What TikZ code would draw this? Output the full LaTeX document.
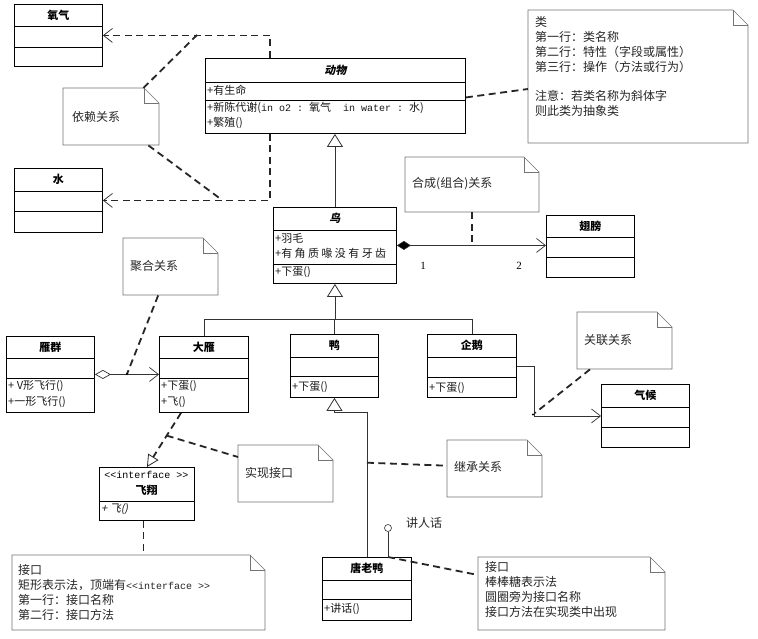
\documentclass[tikz,border=0pt]{standalone}
\usepackage{fontspec}
\setmainfont{Noto Sans CJK SC}[AutoFakeSlant=0.2]
\newfontfamily\bislant{Noto Sans CJK SC}[UprightFeatures={FakeSlant=0.2}, BoldFeatures={FakeSlant=0.2}]
\newfontfamily\mono{Liberation Mono}
\newfontfamily\serifnum{Liberation Serif}
\usetikzlibrary{arrows.meta}
\tikzset{
  clsbox/.style={draw=black, line width=0.9pt, inner sep=0pt, fill=white},
  cline/.style={line width=0.8pt},
  ctitle/.style={font=\bfseries\fontsize{11}{12}\selectfont, inner sep=0pt},
  crow/.style={anchor=west, font=\fontsize{11}{12}\selectfont, inner sep=0pt, text=black!90},
  notearea/.style={inner sep=0pt},
  noteline/.style={draw=black!55, line width=0.6pt, fill=white},
  ntext/.style={anchor=north west, align=left, font=\fontsize{12}{15}\selectfont, inner sep=0pt, text=black!85},
  ntitle/.style={anchor=west, font=\fontsize{12}{15}\selectfont, inner sep=0pt, text=black!85},
  dashc/.style={line width=1.8pt, dash pattern=on 7pt off 4.5pt, black!85},
  assoc/.style={line width=0.6pt, black!80},
  barb/.style={-{Straight Barb[length=9pt,width=14pt,line width=0.7pt]}},
  gen/.style={-{Triangle[open,length=13pt,width=16pt,line width=0.8pt,fill=white]}},
  real/.style={-{Triangle[open,length=12pt,width=12pt,line width=0.8pt,fill=white]}},
  dotpt/.style={circle, fill=black, inner sep=0pt, minimum size=2.2pt},
}
\newcommand\umlclass[8]{%
  \node[clsbox, minimum width=#4pt, minimum height=#5pt, anchor=north west] (#1) at (#2,#3) {};
  \draw[cline] ([yshift=-#6pt]#1.north west) -- ([yshift=-#6pt]#1.north east);
  \draw[cline] ([yshift=-#7pt]#1.north west) -- ([yshift=-#7pt]#1.north east);
  \node[ctitle] (#1-t) at ([yshift={-#6pt/2}]#1.north) {#8};
}
\newcommand\umlnote[5]{%
  \node[notearea, minimum width={(#4-#2)*1pt}, minimum height={(#5-#3)*1pt}, anchor=north west] (#1) at (#2,#3) {};
  \draw[noteline] (#2,#3) -- ({#4-15},#3) -- (#4,{#3+15}) -- (#4,#5) -- (#2,#5) -- cycle;
  \draw[noteline, fill=none] ({#4-15},#3) -- ({#4-15},{#3+15}) -- (#4,{#3+15});
}
\begin{document}
\begin{tikzpicture}[x=1pt,y=-1pt]
\useasboundingbox (0,0) rectangle (758,639);
\fill[white] (0,0) rectangle (758,639);

% ---------- notes ----------
\umlnote{yilai}{63}{88}{159}{145}
\node[ntitle] (yilai-t) at (72,117) {依赖关系};
\umlnote{leinote}{528}{10}{748}{143}
\node[ntext] (lei-t) at (535,16) {类\\第一行：类名称\\第二行：特性（字段或属性）\\第三行：操作（方法或行为）\\[14pt]注意：若类名称为斜体字\\则此类为抽象类};
\umlnote{hecheng}{405}{157}{539}{212}
\node[ntitle] (hecheng-t) at (412,184) {合成(组合)关系};
\umlnote{juhe}{123}{238}{218}{295}
\node[ntitle] (juhe-t) at (130,266) {聚合关系};
\umlnote{guanlian}{577}{312}{672}{369}
\node[ntitle] (guanlian-t) at (584,340) {关联关系};
\umlnote{shixian}{238}{445}{333}{502}
\node[ntitle] (shixian-t) at (245,473) {实现接口};
\umlnote{jicheng}{447}{440}{542}{497}
\node[ntitle] (jicheng-t) at (454,467) {继承关系};
\umlnote{jiekou1}{12}{555}{265}{630}
\node[ntext] (jiekou1-t) at (18,564) {接口\\矩形表示法，顶端有{\mono\fontsize{10}{15}\selectfont <<interface >>}\\第一行：接口名称\\第二行：接口方法};
\umlnote{jiekou2}{478}{557}{665}{630}
\node[ntext] (jiekou2-t) at (485,561) {接口\\棒棒糖表示法\\圆圈旁为接口名称\\接口方法在实现类中出现};

% ---------- classes ----------
\umlclass{yangqi}{14}{4}{88}{62}{22}{43}{氧气}
\umlclass{shui}{14}{168}{88}{64}{23}{43}{水}
\umlclass{dongwu}{205}{58}{260}{75}{24}{42}{\bislant\bfseries 动物}
\node[crow] (dw-r1) at (207,90) {+有生命};
\node[crow] (dw-r2) at (207,108) {+新陈代谢({\mono\fontsize{10}{12}\selectfont in~o2~:~}氧气{\mono\fontsize{10}{12}\selectfont ~~in~water~:~}水)};
\node[crow] (dw-r3) at (207,123) {+繁殖()};
\umlclass{niao}{273}{207}{123}{76}{23}{57}{\bislant\bfseries 鸟}
\node[crow] (ni-r1) at (275,238) {+羽毛};
\node[crow] (ni-r2) at (275,253) {+\addfontfeature{LetterSpace=22}有角质喙没有牙齿};
\node[crow] (ni-r3) at (275,272) {+下蛋()};
\umlclass{chibang}{546}{215}{88}{62}{22}{42}{翅膀}
\umlclass{yanqun}{6}{336}{88}{76}{22}{42}{雁群}
\node[crow] (yq-r1) at (8,386) {+ V形飞行()};
\node[crow] (yq-r2) at (8,402) {+一形飞行()};
\umlclass{dayan}{159}{336}{89}{76}{22}{42}{大雁}
\node[crow] (dy-r1) at (161,386) {+下蛋()};
\node[crow] (dy-r2) at (161,402) {+飞()};
\umlclass{ya}{290}{334}{88}{63}{23}{42}{鸭}
\node[crow] (ya-r1) at (292,387) {+下蛋()};
\umlclass{qie}{427}{334}{89}{63}{23}{43}{企鹅}
\node[crow] (qe-r1) at (429,388) {+下蛋()};
\umlclass{qihou}{601}{384}{88}{63}{23}{43}{气候}
\umlclass{tang}{322}{557}{89}{63}{23}{42}{唐老鸭}
\node[crow] (tg-r1) at (324,609) {+讲话()};
% interface
\node[clsbox, minimum width=95pt, minimum height=53pt, anchor=north west] (feixiang) at (99,467) {};
\draw[cline] ([yshift=-34pt]feixiang.north west) -- ([yshift=-34pt]feixiang.north east);
\node[inner sep=0pt, font=\mono\fontsize{10}{12}\selectfont] (fx-st) at (146.5,475) {<<interface >>};
\node[ctitle] (fx-t) at (146.5,490) {飞翔};
\node[crow, font=\itshape\fontsize{11}{12}\selectfont] (fx-r1) at (101,509) {+ 飞()};

% ---------- connectors ----------
% dependency
\draw[dashc, barb] ([xshift=65pt]dongwu.north west) |- (yangqi.east);
\draw[dashc, barb] ([xshift=65pt]dongwu.south west) |- (shui.east);
\coordinate (d1) at (197,35);
\coordinate (d2) at (222,200);
\draw[dashc] ([xshift=-16pt]yilai.north east) -- (d1);
\draw[dashc] ([xshift=-11pt]yilai.south east) -- (d2);
% class note
\draw[dashc] ([yshift=-1.5pt]dongwu.east) -- ([yshift=-79pt]leinote.north west);
% generalization bird -> animal
\draw[assoc, gen] (niao.north) -- (niao.north |- dongwu.south);
% composition
\draw[assoc, {Diamond[length=14pt,width=9pt,fill=black]}-{Straight Barb[length=9pt,width=14pt,line width=0.7pt]}] (niao.east) -- (niao.east -| chibang.west);
\node[font=\serifnum\fontsize{11}{12}\selectfont, inner sep=0pt] (m1) at (423,266) {1};
\node[font=\serifnum\fontsize{11}{12}\selectfont, inner sep=0pt] (m2) at (519,266) {2};
\draw[dashc] (hecheng.south) -- (hecheng.south |- niao.east);
% generalization tree
\coordinate (jn) at ([yshift=-35pt]niao.south);
\draw[assoc] (dayan.north) |- (jn) -| (qie.north);
\draw[assoc] (ya.north) -- (ya.north |- jn);
\draw[assoc, gen] (jn) -- (niao.south);
% aggregation
\draw[assoc, {Diamond[open,length=16pt,width=9pt,fill=white,line width=0.7pt]}-{Straight Barb[length=9pt,width=14pt,line width=0.7pt]}] (yanqun.east) -- (dayan.west);
\coordinate (a1) at (127,374);
\draw[dashc] ([xshift=-12.5pt]juhe.south) -- (a1);
\node[dotpt] (a1dot) at (a1) {};
% association
\draw[assoc, barb] (qie.east) -- ++(17,0) |- (qihou.west);
\coordinate (g1) at (535,413);
\draw[dashc] ([xshift=13pt]guanlian.south west) -- (g1);
\node[dotpt] (g1dot) at (533,414.5) {};
% realization
\draw[dashc, real] ([xshift=22pt]dayan.south west) -- (feixiang.north);
\path ([xshift=22pt]dayan.south west) -- coordinate[pos=0.42] (r1) (feixiang.north);
\draw[dashc] (r1) -- ([yshift=-12pt]shixian.north west);
\draw[dashc] ([xshift=-3.5pt]feixiang.south) -- ([xshift=-3.5pt]feixiang.south |- jiekou1.north);
% generalization tang -> duck
\draw[assoc, gen] (tang.north) |- ([yshift=-14pt]ya.south) -- (ya.south);
\draw[dashc] ([yshift=6pt]tang.north |- jicheng.west) -- ([yshift=3pt]jicheng.west);
% lollipop
\node[circle, draw=black!80, line width=0.6pt, minimum size=7pt, inner sep=0pt] (lolli) at (388,528) {};
\draw[assoc] (lolli.south) -- (lolli.south |- tang.north);
\node[ntitle] (jrh) at (406,523) {讲人话};
\draw[dashc] (lolli.south |- tang.north) -- ([yshift=-18pt]jiekou2.north west);
\end{tikzpicture}
\end{document}
